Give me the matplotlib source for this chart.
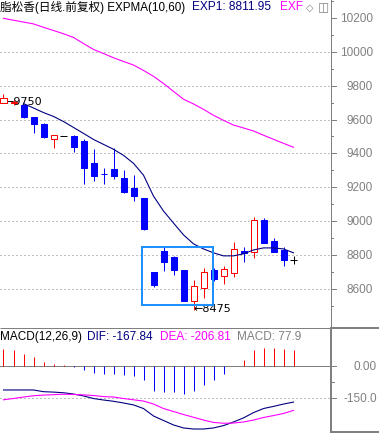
import numpy as np
import matplotlib
matplotlib.use("Agg")
import matplotlib.pyplot as plt
from matplotlib.patches import Rectangle
from matplotlib.lines import Line2D
from matplotlib.transforms import blended_transform_factory

plt.rcParams['font.family'] = ['Liberation Sans', 'Noto Sans CJK SC', 'DejaVu Sans']

# ---------------- data ----------------
opens  = [9700, 9698, 9688, 9612, 9571, 9482, 9500, 9502, 9473, 9341,
          9277, 9306, 9253, 9194, 9134, 8700, 8824, 8787, 8708, 8526,
          8604, 8708, 8675, 8690, 8825, 8816, 9006, 8881, 8831, 8770]
closes = [9729, 9706, 9612, 9576, 9494, 9506, 9500, 9437, 9316, 9267,
          9275, 9267, 9172, 9145, 8953, 8619, 8757, 8708, 8528, 8616,
          8698, 8655, 8718, 8835, 8810, 9006, 8869, 8816, 8767, 8770]
highs  = [9750, 9718, 9690, 9615, 9582, 9510, 9500, 9508, 9482, 9423,
          9312, 9433, 9302, 9272, 9134, 8700, 8845, 8793, 8708, 8653,
          8722, 8722, 8737, 8874, 8849, 9025, 9020, 8899, 8845, 8792]
lows   = [9695, 9688, 9610, 9523, 9490, 9429, 9500, 9410, 9217, 9236,
          9218, 9247, 9165, 9119, 8949, 8612, 8702, 8682, 8528, 8475,
          8545, 8645, 8629, 8669, 8757, 8782, 8869, 8816, 8737, 8747]

exp1 = [np.nan, np.nan, 9694, 9668, 9641, 9618, 9588, 9553, 9518, 9482,
        9453, 9424, 9388, 9341, 9271, 9147, 9059, 8988, 8918, 8865,
        8835, 8812, 8794, 8794, 8806, 8829, 8841, 8841, 8835, 8812]
exp2 = [10198, 10187, 10176, 10165, 10145, 10126, 10107, 10085, 10049, 10014,
        9990, 9965, 9943, 9922, 9890, 9855, 9813, 9766, 9720, 9692,
        9660, 9625, 9595, 9567, 9550, 9532, 9507, 9483, 9459, 9436]

macd_hist = [81, 76, 58, 42, 22, 11, 6, -1, -16, -31,
             -36, -36, -41, -44, -63, -114, -119, -119, -130, -114,
             -88, -64, -36, 2, 31, 76, 86, 86, 81, 78]
dif = [-111, -111, -111, -111, -119, -121, -124, -130, -139, -151,
       -158, -164, -172, -181, -198, -233, -254, -275, -289, -294,
       -294, -289, -278, -261, -242, -217, -198, -188, -177, -167.84]
dea = [-157, -151, -144, -138, -135, -133, -131, -132, -134, -137,
       -142, -144, -151, -157, -163, -177, -198, -212, -226, -239,
       -252, -263, -267, -266, -261, -252, -240, -231, -221, -206.81]

price_ticks = [10200, 10000, 9800, 9600, 9400, 9200, 9000, 8800, 8600]
price_minor = [10300, 10100, 9900, 9700, 9500, 9300, 9100, 8900, 8700, 8500]
grid_levels = [10000, 9800, 9600, 9400, 9200, 9000, 8800, 8600]
macd_ticks = [0, -150]
macd_tick_labels = ["0.00", "-150.0"]
macd_minor = [-75]

title_main = "脂松香(日线.前复权) EXPMA(10,60)"
title_exp1 = "EXP1: 8811.95"
title_exp2 = "EXF"
macd_title = "MACD(12,26,9)"
macd_dif_t = "DIF: -167.84"
macd_dea_t = "DEA: -206.81"
macd_val_t = "MACD: 77.9"

# highlight box (index range, price range)
HL_X0, HL_X1, HL_Y0, HL_Y1 = 13.88, 20.98, 8503, 8848

# ---------------- layout ----------------
W, H = 379, 435
PX = 72.0 / 100.0  # one pixel in points
RED, BLUE, NAVY, MAG, GRAY = '#FF0000', '#0000FF', '#000080', '#FF00FF', '#808080'

def fx(p):
    return p / W

def fy(p):
    return 1 - p / H

fig = plt.figure(figsize=(W / 100, H / 100), dpi=100)
fig.patch.set_facecolor('white')
ax1 = fig.add_axes([0, fy(328), fx(330), 328 / H])
ax2 = fig.add_axes([0, fy(433), fx(330), 105 / H])
for ax in (ax1, ax2):
    ax.set_axis_off()
    ax.set_xlim(-0.35, 32.65)
ax1.set_ylim(8373.5, 10312.3)
ax2.set_ylim(-308, 184.2)

x = np.arange(len(opens))

# grid
for g in grid_levels:
    ax1.axhline(g, color=GRAY, lw=PX, ls=(0, (1, 3)), zorder=0)

# high / low annotations
imax = int(np.argmax(highs))
imin = int(np.argmin(lows))
ax1.text(imax + 0.1, highs[imax] - 38, "←%d" % highs[imax], fontsize=8,
         va='center', ha='left', color='black', zorder=1,
         family=['DejaVu Sans'])
ax1.text(imin - 0.05, lows[imin] + 11, "←%d" % lows[imin], fontsize=8,
         va='center', ha='left', color='black', zorder=1,
         family=['DejaVu Sans'])

# candles
for i in range(len(opens)):
    o, c, h, l = opens[i], closes[i], highs[i], lows[i]
    if c > o:
        col, face = RED, 'white'
    elif c < o:
        col, face = BLUE, BLUE
    else:
        col, face = 'black', None
    if h > l:
        ax1.vlines(i, l, h, colors=col, lw=PX, zorder=2)
    if face is None:
        ax1.hlines(o, i - 0.33, i + 0.33, colors=col, lw=PX, zorder=3)
    else:
        ax1.add_patch(Rectangle((i - 0.3, min(o, c)), 0.6, abs(c - o),
                                facecolor=face, edgecolor=col, lw=PX, zorder=3))

ax1.plot(x, exp1, color=NAVY, lw=0.8, zorder=4)
ax1.plot(x, exp2, color=MAG, lw=0.8, zorder=4)

ax1.add_patch(Rectangle((HL_X0, HL_Y0), HL_X1 - HL_X0, HL_Y1 - HL_Y0,
                        facecolor='none', edgecolor='#1E90FF', lw=2 * PX, zorder=5))

# MACD panel
ax2.axhline(0, color='black', lw=PX, ls=(0, (1, 1)), zorder=0)
ax2.axhline(-150, color=GRAY, lw=PX, ls=(0, (1, 3)), zorder=0)
bar_cols = [RED if v > 0 else BLUE for v in macd_hist]
ax2.vlines(x, 0, macd_hist, colors=bar_cols, lw=PX, zorder=2)
ax2.plot(x, dif, color=NAVY, lw=0.8, zorder=3)
ax2.plot(x, dea, color=MAG, lw=0.8, zorder=3)

# right axis labels and ticks
t1 = blended_transform_factory(fig.transFigure, ax1.transData)
t2 = blended_transform_factory(fig.transFigure, ax2.transData)
for p in price_ticks:
    ax1.text(fx(373), p, str(p), transform=t1, ha='right', va='center',
             fontsize=8.5, color=GRAY, clip_on=False)
    ax1.plot([fx(330.5), fx(335.5)], [p, p], transform=t1, color=GRAY, lw=PX, clip_on=False)
for p in price_minor:
    ax1.plot([fx(330.5), fx(333)], [p, p], transform=t1, color=GRAY, lw=PX, clip_on=False)
for v, lab in zip(macd_ticks, macd_tick_labels):
    ax2.text(fx(377), v, lab, transform=t2, ha='right', va='center',
             fontsize=8.5, color=GRAY, clip_on=False)
    ax2.plot([fx(331), fx(336)], [v, v], transform=t2, color=GRAY, lw=PX, clip_on=False)
for v in macd_minor:
    ax2.plot([fx(331), fx(334)], [v, v], transform=t2, color=GRAY, lw=PX, clip_on=False)

# frame lines
def fline(x0, y0, x1, y1, lw, color=GRAY):
    fig.add_artist(Line2D([fx(x0), fx(x1)], [fy(y0), fy(y1)], color=color, lw=lw,
                          transform=fig.transFigure, solid_capstyle='butt'))

fline(330.5, 0, 330.5, 328, PX)
fline(0, 328.5, 330, 328.5, PX)
fline(330, 328.5, 379, 328.5, 2 * PX)
fline(331, 328, 331, 434, 2 * PX)
fline(330, 433, 379, 433, 2 * PX)

# header texts
fig.text(fx(0), fy(7.5), title_main, ha='left', va='center', fontsize=8.4, color='black')
fig.text(fx(192), fy(7.5), title_exp1, ha='left', va='center', fontsize=8.6, color=NAVY)
fig.text(fx(280), fy(7.5), title_exp2, ha='left', va='center', fontsize=8.6, color=MAG)
fig.text(fx(306), fy(7.5), "◇", ha='left', va='center', fontsize=7, color=GRAY,
         family=['DejaVu Sans'])
fig.text(fx(318), fy(7.5), "◫", ha='left', va='center', fontsize=8.5, color=GRAY,
         family=['DejaVu Sans'])

fig.text(fx(0), fy(337), macd_title, ha='left', va='center', fontsize=8.5, color='black')
fig.text(fx(87), fy(337), macd_dif_t, ha='left', va='center', fontsize=8.5, color=NAVY)
fig.text(fx(160), fy(337), macd_dea_t, ha='left', va='center', fontsize=8.5, color=MAG)
fig.text(fx(237), fy(337), macd_val_t, ha='left', va='center', fontsize=8.5, color=GRAY)

fig.savefig("out.png", dpi=100, facecolor='white')
